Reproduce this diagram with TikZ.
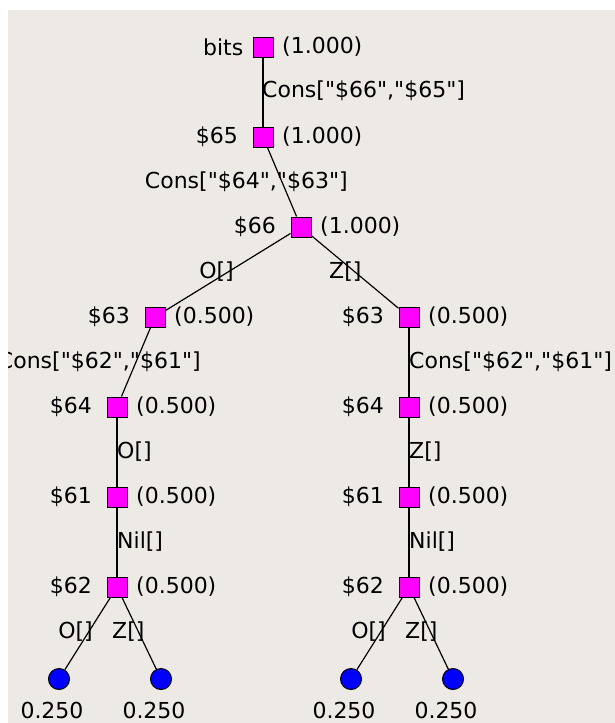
\documentclass[tikz,border=0pt]{standalone}
\usepackage{fontspec}
\setmainfont{DejaVu Sans}[Ligatures=TeXOff]
\definecolor{panel}{RGB}{237,234,230}
\definecolor{sqfill}{RGB}{255,0,255}
\definecolor{leaffill}{RGB}{0,0,255}
\tikzset{
  sq/.style={draw=black, line width=1pt, fill=sqfill, rectangle, minimum size=20pt, inner sep=0pt},
  leaf/.style={draw=black, line width=1pt, fill=leaffill, circle, minimum size=21pt, inner sep=0pt},
  txt/.style={font=\fontsize{22}{26}\selectfont, inner sep=0pt, text=black},
  edge/.style={draw=black, line width=1.2pt},
  lname/.style={txt, anchor=east},
  lprob/.style={txt, anchor=west},
}
\begin{document}
\begin{tikzpicture}[x=1pt,y=-1pt]
\useasboundingbox (0,0) rectangle (615,723);
\fill[white] (0,0) rectangle (615,723);
\fill[panel] (8,10) rectangle (615,723);
\begin{scope}
\clip (8,10) rectangle (615,723);
% squares
\node[sq] (bits) at (263,47) {};
\node[sq] (n65) at (263,137) {};
\node[sq] (n66) at (301,227) {};
\node[sq] (L63) at (155,317) {};
\node[sq] (L64) at (117,407) {};
\node[sq] (L61) at (117,497) {};
\node[sq] (L62) at (117,587) {};
\node[sq] (R63) at (409,317) {};
\node[sq] (R64) at (409,407) {};
\node[sq] (R61) at (409,497) {};
\node[sq] (R62) at (409,587) {};
% leaves
\node[leaf] (LA) at (59,679) {};
\node[leaf] (LB) at (161,679) {};
\node[leaf] (RA) at (351,679) {};
\node[leaf] (RB) at (453,679) {};
% edges
\draw[edge] (bits) -- (n65);
\draw[edge] (n65) -- (n66);
\draw[edge] (n66) -- (L63);
\draw[edge] (n66) -- (R63);
\draw[edge] (L63) -- (L64);
\draw[edge] (L64) -- (L61);
\draw[edge] (L61) -- (L62);
\draw[edge] (R63) -- (R64);
\draw[edge] (R64) -- (R61);
\draw[edge] (R61) -- (R62);
\draw[edge] (L62) -- (LA);
\draw[edge] (L62) -- (LB);
\draw[edge] (R62) -- (RA);
\draw[edge] (R62) -- (RB);
% node names
\node[lname] (tbits) at ([xshift=-9pt]bits.west) {bits};
\node[lname] (t65) at ([xshift=-14.5pt]n65.west) {\$65};
\node[lname] (t66) at ([xshift=-14.5pt]n66.west) {\$66};
\node[lname] (tL63) at ([xshift=-14.5pt]L63.west) {\$63};
\node[lname] (tL64) at ([xshift=-14.5pt]L64.west) {\$64};
\node[lname] (tL61) at ([xshift=-14.5pt]L61.west) {\$61};
\node[lname] (tL62) at ([xshift=-14.5pt]L62.west) {\$62};
\node[lname] (tR63) at ([xshift=-14.5pt]R63.west) {\$63};
\node[lname] (tR64) at ([xshift=-14.5pt]R64.west) {\$64};
\node[lname] (tR61) at ([xshift=-14.5pt]R61.west) {\$61};
\node[lname] (tR62) at ([xshift=-14.5pt]R62.west) {\$62};
% probabilities
\node[lprob] (pbits) at ([xshift=8.5pt]bits.east) {(1.000)};
\node[lprob] (p65) at ([xshift=8.5pt]n65.east) {(1.000)};
\node[lprob] (p66) at ([xshift=8.5pt]n66.east) {(1.000)};
\node[lprob] (pL63) at ([xshift=8.5pt]L63.east) {(0.500)};
\node[lprob] (pL64) at ([xshift=8.5pt]L64.east) {(0.500)};
\node[lprob] (pL61) at ([xshift=8.5pt]L61.east) {(0.500)};
\node[lprob] (pL62) at ([xshift=8.5pt]L62.east) {(0.500)};
\node[lprob] (pR63) at ([xshift=8.5pt]R63.east) {(0.500)};
\node[lprob] (pR64) at ([xshift=8.5pt]R64.east) {(0.500)};
\node[lprob] (pR61) at ([xshift=8.5pt]R61.east) {(0.500)};
\node[lprob] (pR62) at ([xshift=8.5pt]R62.east) {(0.500)};
% leaf values
\node[txt] (vLA) at (52,710) {0.250};
\node[txt] (vLB) at (154,710) {0.250};
\node[txt] (vRA) at (344,710) {0.250};
\node[txt] (vRB) at (446,710) {0.250};
% edge labels
\node[txt, anchor=west] (e1) at (262,91) {Cons["\$66","\$65"]};
\node[txt, anchor=east] (e2) at (348,182) {Cons["\$64","\$63"]};
\node[txt, anchor=east] (e3) at (234,272) {O[]};
\node[txt, anchor=west] (e4) at (329,272) {Z[]};
\node[txt, anchor=east] (e5) at (201,362) {Cons["\$62","\$61"]};
\node[txt, anchor=west] (e6) at (409,362) {Cons["\$62","\$61"]};
\node[txt, anchor=west] (e7) at (117,452) {O[]};
\node[txt, anchor=west] (e8) at (409,452) {Z[]};
\node[txt, anchor=west] (e9) at (117,542) {Nil[]};
\node[txt, anchor=west] (e10) at (409,542) {Nil[]};
\node[txt, anchor=east] (e11) at (93,632) {O[]};
\node[txt, anchor=west] (e12) at (112,632) {Z[]};
\node[txt, anchor=east] (e13) at (386,632) {O[]};
\node[txt, anchor=west] (e14) at (405,632) {Z[]};
\end{scope}
\end{tikzpicture}
\end{document}
